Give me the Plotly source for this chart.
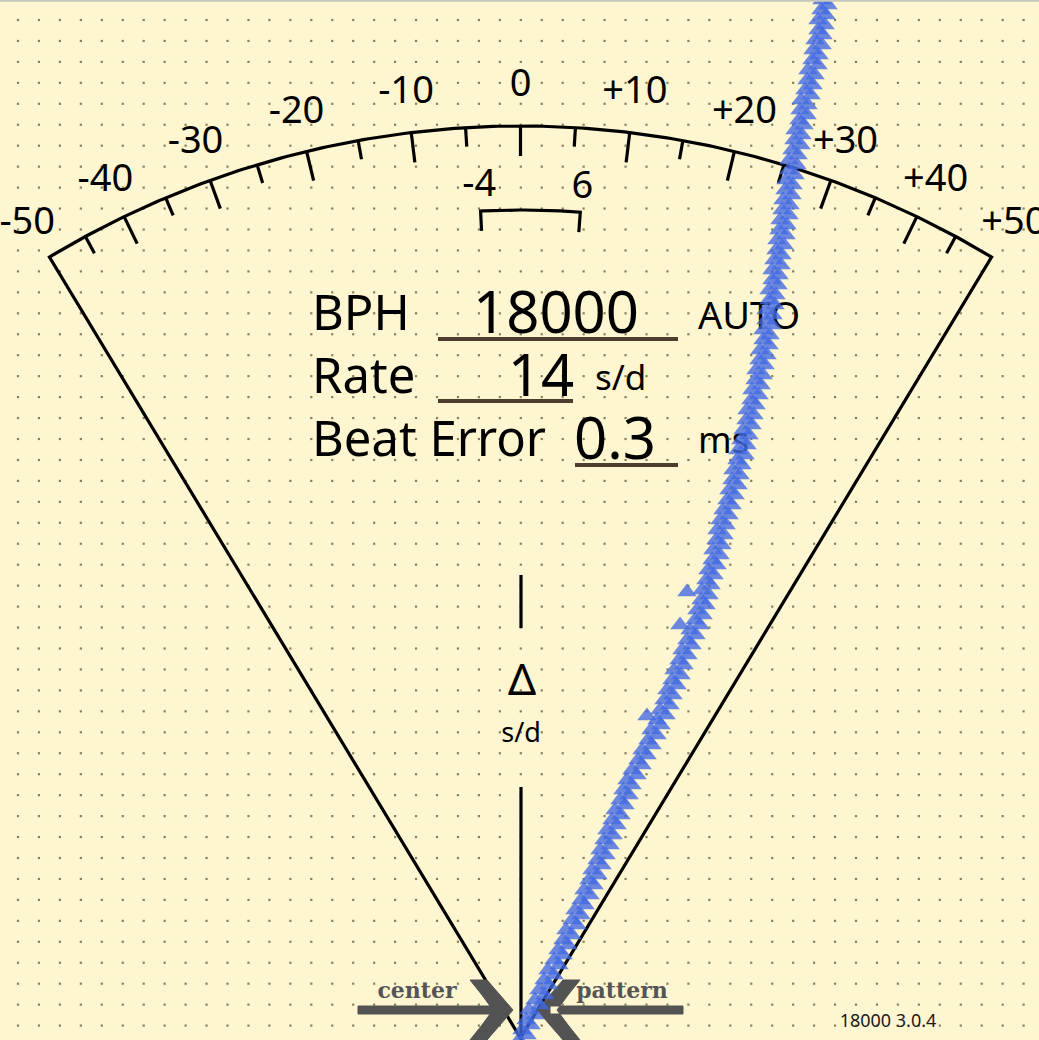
import math
import plotly.graph_objects as go

W, H = 1039, 1040
BG = "#FEF6D0"
INK = "#000000"
FONT = "Noto Sans"

# ---------------- data ----------------
scale_ticks = [-45, -40, -35, -30, -25, -20, -15, -10, -5, 0, 5, 10, 15, 20, 25, 30, 35, 40, 45]
label_values = [-50, -40, -30, -20, -10, 0, 10, 20, 30, 40, 50]
label_texts = ["-50", "-40", "-30", "-20", "-10", "0", "+10", "+20", "+30", "+40", "+50"]
scale_limit = 50
tolerance_values = [-4, 6]
tolerance_texts = ["-4", "6"]

readout_names = ["BPH", "Rate", "Beat Error"]
readout_values = ["18000", "14", "0.3"]
readout_units = ["AUTO", "s/d", "ms"]
version_text = "18000 3.0.4"

# tick trace (row position, horizontal position)
tick_y = [0, 10, 20, 30, 40, 50, 60, 70, 80, 90, 100, 110, 120, 130, 140, 150, 160, 170, 180, 190,
          200, 210, 220, 230, 240, 250, 260, 270, 280, 290, 300, 310, 320, 330, 340, 350, 360, 370,
          380, 390, 400, 410, 420, 430, 440, 450, 460, 470, 480, 490, 500, 510, 520, 530, 540, 550,
          560, 570, 580, 590, 600, 610, 620, 630, 640, 650, 660, 670, 680, 690, 700, 710, 720, 730,
          740, 750, 760, 770, 780, 790, 800, 810, 820, 830, 840, 850, 860, 870, 880, 890, 900, 910,
          920, 930, 940, 950, 960, 970, 980, 990, 1000, 1010, 1020, 1030, 1040]
tick_x = [822, 821, 818, 818, 815, 813, 812, 808, 807, 805, 801, 800, 799, 795, 794, 792, 789, 789,
          786, 785, 783, 782, 780, 779, 777, 776, 774, 772, 772, 769, 769, 766, 766, 763, 763, 760,
          759, 756, 755, 752, 751, 747, 746, 743, 741, 738, 737, 733, 732, 729, 727, 723, 720, 717,
          716, 713, 712, 708, 706, 702, 701, 697, 695, 690, 687, 682, 679, 674, 672, 667, 664, 660,
          657, 651, 648, 642, 638, 632, 627, 623, 620, 615, 612, 607, 604, 600, 597, 592, 589, 584,
          581, 575, 572, 566, 563, 558, 554, 548, 544, 539, 535, 529, 526, 522, 519]
# tock trace
tock_y = [5, 15, 25, 35, 45, 55, 65, 75, 85, 95, 105, 115, 125, 135, 145, 155, 165, 175, 185, 195,
          205, 215, 225, 235, 245, 255, 265, 275, 285, 295, 305, 315, 325, 335, 345, 355, 365, 375,
          385, 395, 405, 415, 425, 435, 445, 455, 465, 475, 485, 495, 505, 515, 525, 535, 545, 555,
          565, 575, 585, 595, 605, 615, 625, 635, 645, 655, 665, 675, 685, 695, 705, 715, 725, 735,
          745, 755, 765, 775, 785, 795, 805, 815, 825, 835, 845, 855, 865, 875, 885, 895, 905, 915,
          925, 935, 945, 955, 965, 975, 985, 995, 1005, 1015, 1025, 1035]
tock_x = [828, 826, 825, 823, 822, 819, 818, 815, 813, 811, 808, 807, 804, 802, 801, 798, 797, 795,
          793, 792, 790, 789, 787, 786, 784, 782, 781, 779, 778, 776, 775, 773, 772, 770, 769, 767,
          765, 763, 761, 759, 756, 754, 752, 749, 747, 745, 742, 740, 738, 735, 732, 729, 726, 724,
          722, 720, 717, 714, 711, 709, 706, 703, 700, 696, 692, 688, 684, 681, 677, 673, 670, 666,
          661, 657, 652, 647, 642, 637, 632, 629, 625, 621, 617, 613, 610, 606, 602, 598, 594, 590,
          585, 581, 577, 572, 568, 563, 559, 554, 549, 545, 540, 535, 531, 527]
stray_x = [687, 680, 647]
stray_y = [592, 625, 716]

# ---------------- geometry helpers ----------------
CX, CY = 520.5, 1038.0
R = 912.0
K = 0.012064


def ang(v):
    return math.atan(v * K)


def pt(v, r):
    a = ang(v)
    return CX + r * math.sin(a), CY - r * math.cos(a)


def tshift(ys, size):
    # compensate plotly's vertical text anchoring
    return [y + 0.1 * size for y in ys]


fig = go.Figure()

# dot grid
gx, gy = [], []
step = 20.95
j = 0
while 20 + j * step < H:
    i = 0
    while 18 + i * step < W:
        gx.append(18 + i * step)
        gy.append(20 + j * step)
        i += 1
    j += 1
fig.add_trace(go.Scatter(x=gx, y=gy, mode="markers", hoverinfo="skip",
                         marker=dict(symbol="square", size=2.2, color="#86805f", line=dict(width=0))))

# fan + arc outline
ox, oy = [CX], [CY]
n = 200
for k in range(n + 1):
    v = -scale_limit + 2 * scale_limit * k / n
    x, y = pt(v, R)
    ox.append(x)
    oy.append(y)
ox.append(CX)
oy.append(CY)
fig.add_trace(go.Scatter(x=ox, y=oy, mode="lines", hoverinfo="skip",
                         line=dict(color=INK, width=3.2)))

# scale ticks
tx, ty = [], []
for v in scale_ticks:
    L = 30 if v % 10 == 0 else 19
    x1, y1 = pt(v, R)
    x2, y2 = pt(v, R - L)
    tx += [x1, x2, None]
    ty += [y1, y2, None]
fig.add_trace(go.Scatter(x=tx, y=ty, mode="lines", hoverinfo="skip",
                         line=dict(color=INK, width=3.2)))

# tolerance bracket
RB = 828
bx, by = [], []
x, y = pt(tolerance_values[0], RB - 20)
bx.append(x); by.append(y)
for k in range(31):
    v = tolerance_values[0] + (tolerance_values[1] - tolerance_values[0]) * k / 30
    x, y = pt(v, RB)
    bx.append(x); by.append(y)
x, y = pt(tolerance_values[1], RB - 20)
bx.append(x); by.append(y)
fig.add_trace(go.Scatter(x=bx, y=by, mode="lines", hoverinfo="skip",
                         line=dict(color=INK, width=3.2)))

# center vertical marker
fig.add_trace(go.Scatter(x=[521, 521, None, 521, 521], y=[575, 628, None, 787, 1040],
                         mode="lines", hoverinfo="skip", line=dict(color=INK, width=3.2)))

# readout underlines
fig.add_trace(go.Scatter(x=[438, 678, None, 438, 573, None, 575, 678],
                         y=[339, 339, None, 401, 401, None, 465, 465],
                         mode="lines", hoverinfo="skip", line=dict(color="#4e3d2c", width=4)))

# scale labels
lx, ly = [], []
for v in label_values:
    x, y = pt(v, 955)
    lx.append(x)
    ly.append(y)
fig.add_trace(go.Scatter(x=lx, y=tshift(ly, 38), mode="text", text=label_texts, hoverinfo="skip",
                         textposition="middle center", cliponaxis=False,
                         textfont=dict(family=FONT, size=38, color=INK)))
tlx, tly = [], []
for v in tolerance_values:
    x, y = pt(v, 856)
    tlx.append(x)
    tly.append(y)
fig.add_trace(go.Scatter(x=tlx, y=tshift(tly, 38), mode="text", text=tolerance_texts,
                         hoverinfo="skip", textposition="middle center",
                         textfont=dict(family=FONT, size=38, color=INK)))

# readout names (left aligned)
fig.add_trace(go.Scatter(x=[312, 312, 312], y=tshift([313, 376, 439], 49), mode="text",
                         text=readout_names, hoverinfo="skip", textposition="middle right",
                         textfont=dict(family=FONT, size=49, color=INK)))
# readout values
fig.add_trace(go.Scatter(x=[556, 541, 615], y=tshift([313, 376, 439], 58), mode="text",
                         text=readout_values, hoverinfo="skip", textposition="middle center",
                         textfont=dict(family=FONT, size=58, color=INK)))
# units
fig.add_trace(go.Scatter(x=[698, 595, 698], y=tshift([316, 378, 440], 37), mode="text",
                         text=readout_units, hoverinfo="skip", textposition="middle right",
                         textfont=dict(family=FONT, size=[38, 35, 36], color=INK)))

# delta label
fig.add_trace(go.Scatter(x=[522, 521], y=[684, 735], mode="text", text=["Δ", "s/d"],
                         hoverinfo="skip", textposition="middle center",
                         textfont=dict(family=FONT, size=[44, 27], color=INK)))

# version text
fig.add_trace(go.Scatter(x=[888], y=[1022], mode="text", text=[version_text], hoverinfo="skip",
                         textposition="middle center",
                         textfont=dict(family=FONT, size=18, color="#1a1a1a")))

# center pattern arrows
AC = "#535353"
head = [(-43, -30), (-26, -30), (-13, -15), (0, 0), (-13, 15), (-26, 30), (-43, 30),
        (-31, 15), (-20, 0), (-31, -15), (-43, -30)]
ax_l, ay_l = [358, 500, 500, 358, 358, None], [1006, 1006, 1014, 1014, 1006, None]
for dx, dy in head:
    ax_l.append(513 + dx); ay_l.append(1010 + dy)
fig.add_trace(go.Scatter(x=ax_l, y=ay_l, mode="lines", fill="toself", fillcolor=AC,
                         hoverinfo="skip", line=dict(color=AC, width=1)))
ax_r, ay_r = [550, 683, 683, 550, 550, None], [1006, 1006, 1014, 1014, 1006, None]
for dx, dy in head:
    ax_r.append(537 - dx); ay_r.append(1010 + dy)
fig.add_trace(go.Scatter(x=ax_r, y=ay_r, mode="lines", fill="toself", fillcolor=AC,
                         hoverinfo="skip", line=dict(color=AC, width=1)))
fig.add_trace(go.Scatter(x=[417, 622], y=[992, 992], mode="text", text=["center", "pattern"],
                         hoverinfo="skip", textposition="middle center",
                         textfont=dict(family="DejaVu Serif", size=22, color="#555555",
                                       weight="bold")))

# beat traces
TRI = dict(symbol="triangle-up", size=17, color="rgba(65,105,225,0.78)", line=dict(width=0))
fig.add_trace(go.Scatter(x=tick_x, y=tick_y, mode="markers", marker=TRI, name="tick"))
fig.add_trace(go.Scatter(x=tock_x, y=tock_y, mode="markers", marker=TRI, name="tock"))
fig.add_trace(go.Scatter(x=stray_x, y=stray_y, mode="markers", marker=TRI, name="stray"))

fig.add_shape(type="line", x0=0, x1=W, y0=0.8, y1=0.8, line=dict(color="#c6c9bd", width=2))

fig.update_layout(
    width=W, height=H, margin=dict(l=0, r=0, t=0, b=0),
    paper_bgcolor=BG, plot_bgcolor=BG, showlegend=False,
    xaxis=dict(range=[0, W], visible=False, fixedrange=True),
    yaxis=dict(range=[H, 0], visible=False, fixedrange=True),
)
fig.write_html("out.html", config={"displayModeBar": False},
               post_script="document.body.style.margin='0';document.body.style.overflow='hidden';")
